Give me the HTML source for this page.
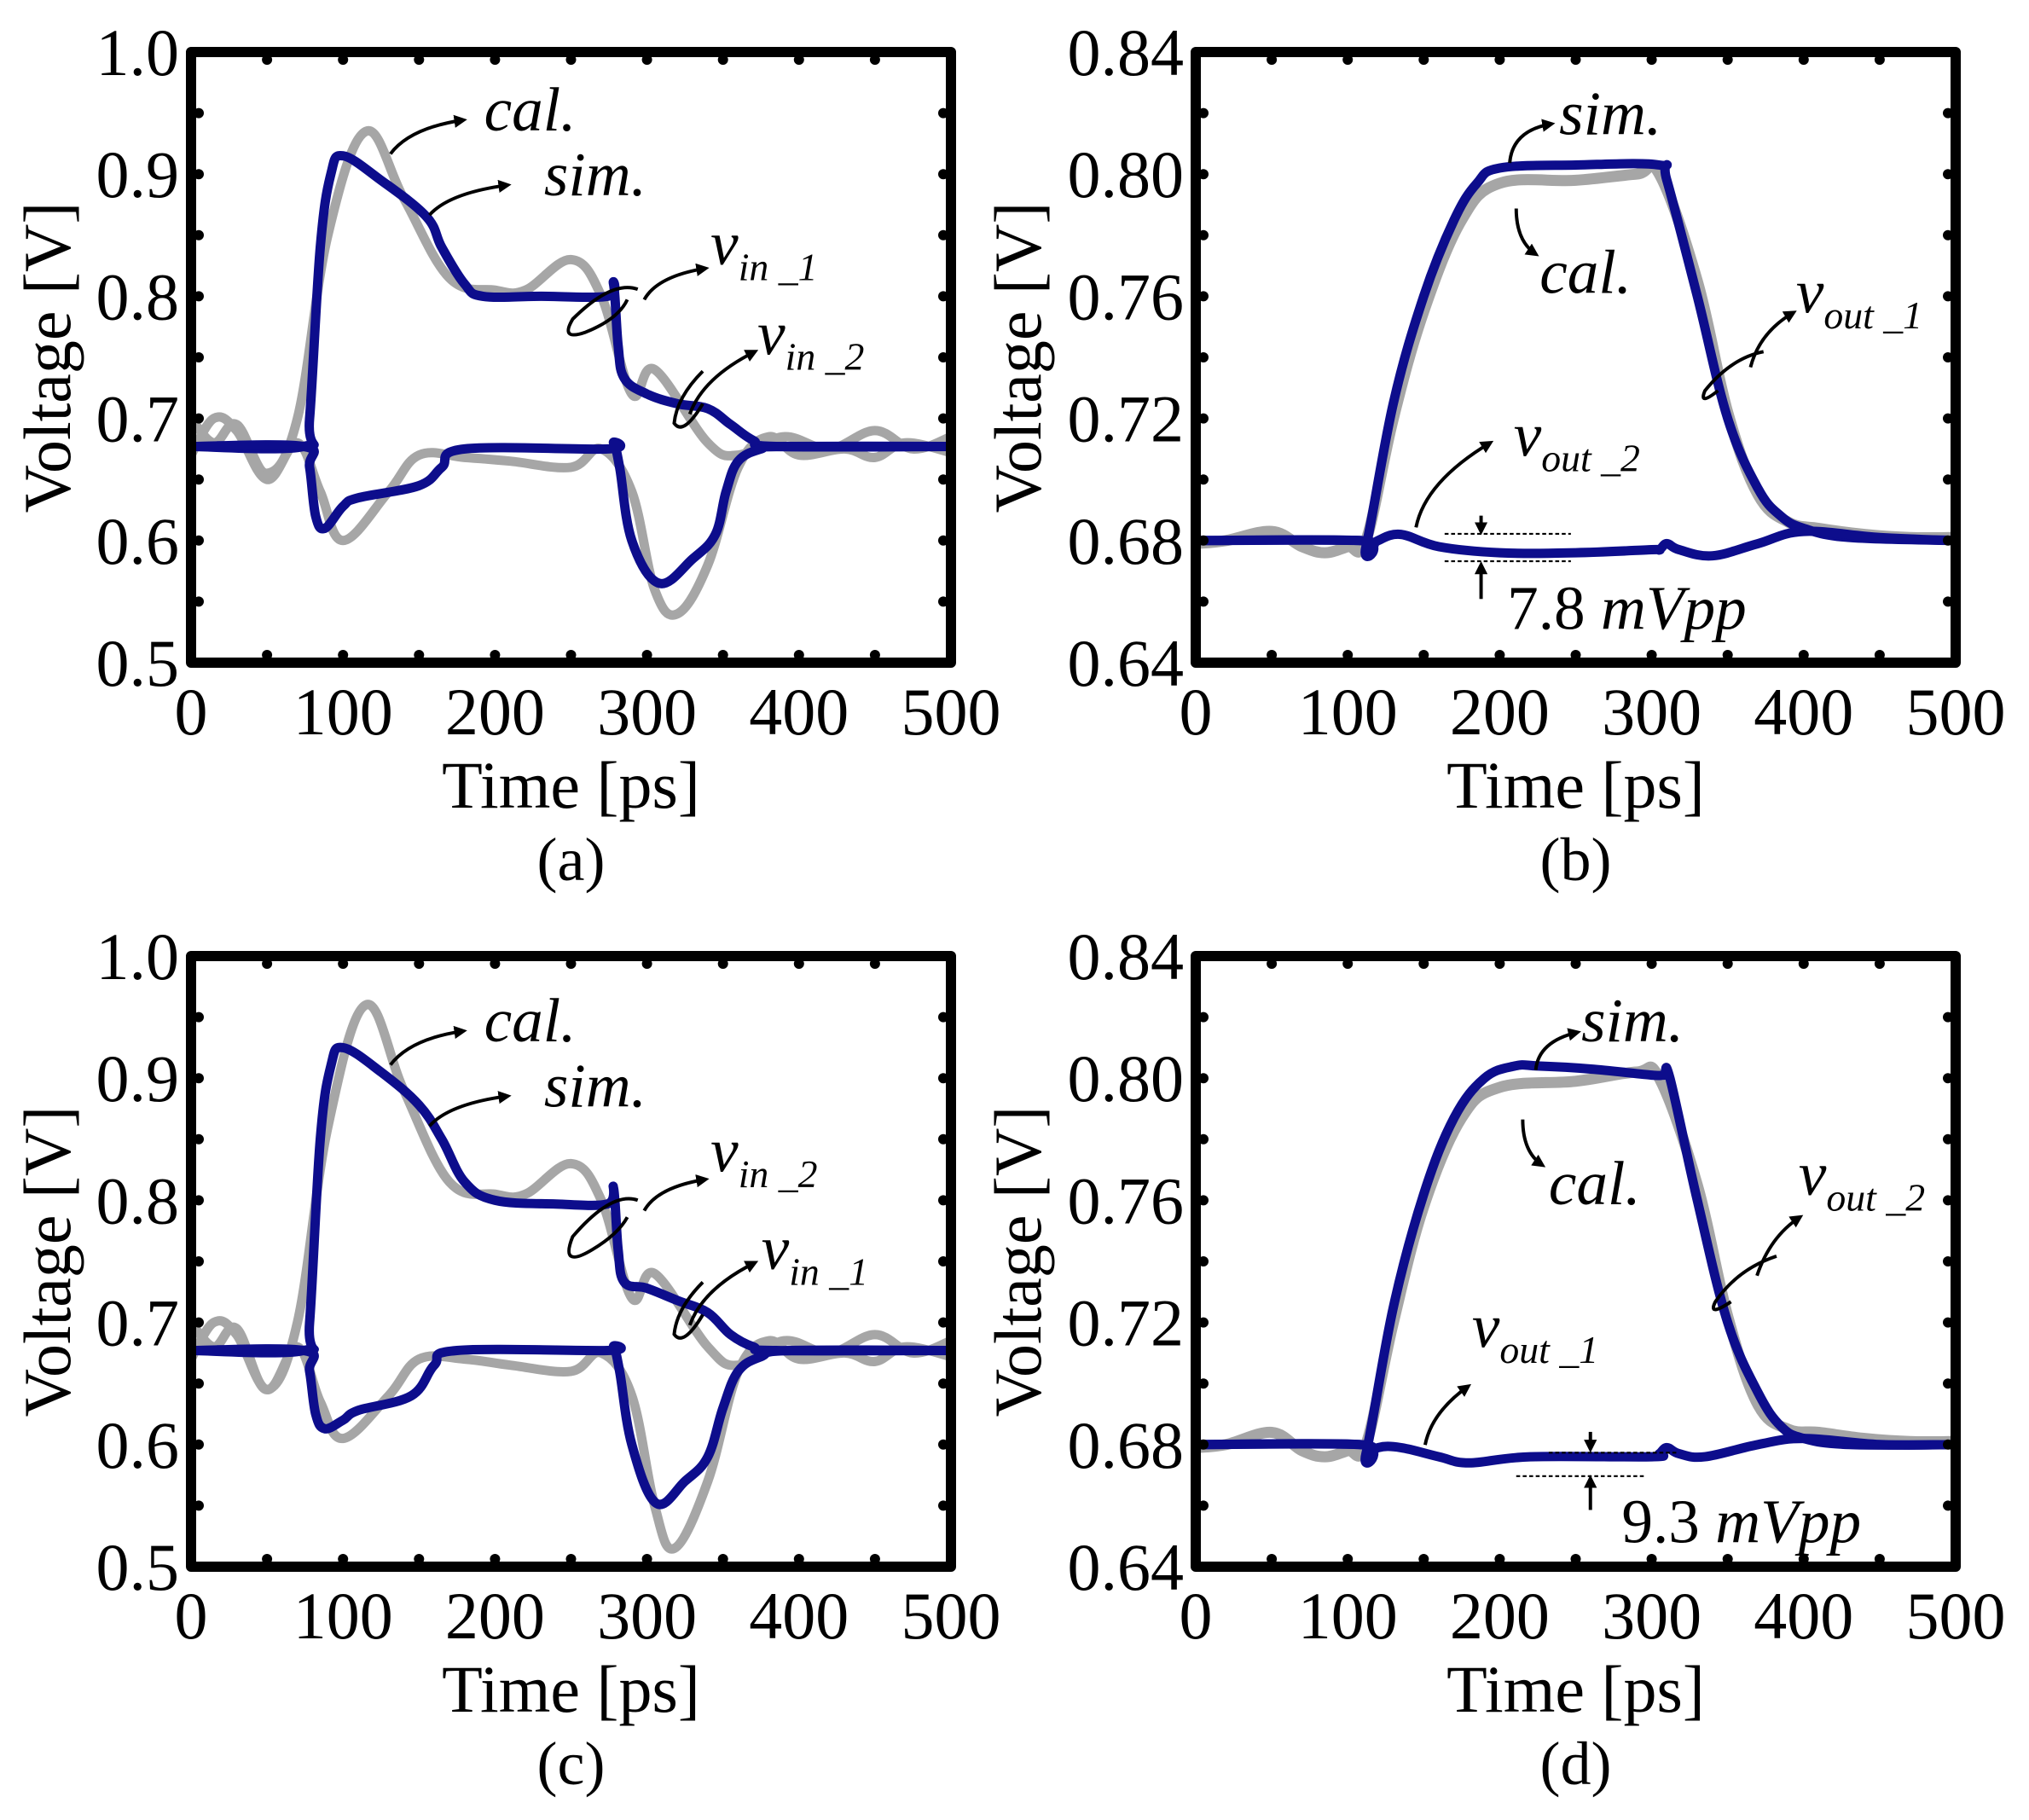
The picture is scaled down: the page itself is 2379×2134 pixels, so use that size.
<!DOCTYPE html>
<html><head><meta charset="utf-8"><style>
html,body{margin:0;padding:0;background:#fff}
svg{display:block}
text{font-family:"Liberation Serif",serif;fill:#000}
</style></head><body>
<svg id="fig" width="2379" height="2134" viewBox="0 0 2379 2134" xmlns="http://www.w3.org/2000/svg"></svg>
<script>
// ---- data (time in ps, voltage in V) ----
const aCalIn1T=[0,15,30,50,70,90,115,140,170,200,220,250,270,290,305,340,360,390,420,450,475,500];
const aCalIn1V=[0.70,0.68,0.695,0.655,0.70,0.85,0.935,0.88,0.815,0.805,0.805,0.83,0.80,0.72,0.74,0.68,0.67,0.685,0.675,0.69,0.675,0.685];
const aCalIn2T=[0,15,30,50,70,85,100,130,150,180,210,250,270,290,305,320,340,360,380,400,430,450,470,500];
const aCalIn2V=[0.67,0.70,0.69,0.65,0.68,0.64,0.60,0.64,0.67,0.668,0.665,0.66,0.675,0.64,0.56,0.54,0.58,0.66,0.685,0.67,0.675,0.668,0.68,0.672];
const aSimIn1T=[0,74,78,85,92,100,125,155,165,180,192,230,274,278,281,285,300,320,340,355,370,385,500];
const aSimIn1V=[0.677,0.677,0.70,0.84,0.90,0.915,0.895,0.865,0.84,0.81,0.80,0.80,0.80,0.81,0.76,0.733,0.72,0.712,0.708,0.695,0.682,0.677,0.677];
const aSimIn2T=[0,74,78,82,88,100,110,150,165,180,274,278,282,290,308,330,345,352,360,375,390,500];
const aSimIn2V=[0.677,0.677,0.66,0.62,0.61,0.628,0.635,0.645,0.66,0.675,0.675,0.68,0.66,0.60,0.565,0.585,0.605,0.64,0.665,0.675,0.677,0.677];

const cCalIn2T=[0,15,30,50,70,90,115,140,170,200,220,250,270,290,305,340,360,390,420,450,475,500];
const cCalIn2V=[0.70,0.68,0.695,0.645,0.70,0.86,0.96,0.89,0.815,0.805,0.805,0.83,0.80,0.72,0.74,0.68,0.665,0.685,0.675,0.69,0.675,0.685];
const cCalIn1T=[0,15,30,50,70,85,100,130,150,180,210,250,270,290,305,318,340,360,380,400,430,450,470,500];
const cCalIn1V=[0.67,0.70,0.69,0.645,0.68,0.635,0.605,0.64,0.67,0.67,0.665,0.66,0.675,0.64,0.55,0.515,0.57,0.66,0.685,0.67,0.675,0.668,0.68,0.672];
const cSimIn2T=[0,74,78,85,92,100,125,150,165,180,200,240,274,278,281,285,300,320,340,355,370,385,500];
const cSimIn2V=[0.677,0.677,0.70,0.85,0.91,0.925,0.905,0.878,0.85,0.815,0.80,0.797,0.797,0.81,0.76,0.733,0.728,0.718,0.708,0.69,0.68,0.677,0.677];
const cSimIn1T=[0,74,78,82,88,100,110,145,160,175,274,278,282,290,306,325,340,350,360,375,395,500];
const cSimIn1V=[0.677,0.677,0.66,0.625,0.613,0.62,0.628,0.64,0.665,0.677,0.677,0.68,0.66,0.60,0.552,0.57,0.59,0.63,0.66,0.672,0.677,0.677];

const bCalOut1T=[0,20,50,70,85,100,112,130,150,175,200,250,290,305,330,350,370,390,410,440,470,500];
const bCalOut1V=[0.679,0.68,0.683,0.678,0.676,0.678,0.68,0.72,0.755,0.785,0.797,0.798,0.80,0.80,0.765,0.722,0.695,0.686,0.684,0.682,0.681,0.681];
const bSimOut1T=[0,108,112,130,150,170,185,200,250,305,310,330,350,370,385,400,430,500];
const bSimOut1V=[0.68,0.68,0.678,0.725,0.76,0.785,0.797,0.802,0.803,0.803,0.798,0.76,0.72,0.697,0.688,0.684,0.681,0.68];
const bSimOut2T=[0,108,112,120,135,160,200,250,300,305,310,318,340,370,400,450,500];
const bSimOut2V=[0.68,0.68,0.677,0.68,0.682,0.678,0.676,0.676,0.677,0.677,0.679,0.677,0.675,0.679,0.683,0.681,0.68];

const dCalOut2T=[0,20,50,70,85,100,112,130,150,175,200,250,290,305,330,350,370,390,410,440,470,500];
const dCalOut2V=[0.679,0.68,0.684,0.678,0.676,0.678,0.68,0.72,0.758,0.787,0.797,0.799,0.802,0.80,0.765,0.722,0.693,0.685,0.684,0.682,0.681,0.681];
const dSimOut2T=[0,108,112,130,150,170,190,210,225,260,300,308,312,330,350,370,385,400,430,500];
const dSimOut2V=[0.68,0.68,0.677,0.725,0.762,0.787,0.800,0.804,0.804,0.803,0.801,0.801,0.80,0.76,0.72,0.697,0.686,0.682,0.68,0.68];
const dSimOut1T=[0,108,112,120,135,160,180,220,300,305,310,318,335,370,400,450,500];
const dSimOut1V=[0.68,0.68,0.676,0.679,0.679,0.676,0.674,0.676,0.676,0.677,0.679,0.677,0.676,0.68,0.682,0.68,0.68];

const xTicks=[0,100,200,300,400,500];
const yTicksA=[0.5,0.6,0.7,0.8,0.9,1.0];
const yTickLabelsA=["0.5","0.6","0.7","0.8","0.9","1.0"];
const yTicksB=[0.64,0.68,0.72,0.76,0.80,0.84];
const yTickLabelsB=["0.64","0.68","0.72","0.76","0.80","0.84"];

const NS="http://www.w3.org/2000/svg";
const svg=document.getElementById('fig');
function mk(tag,attrs,parent){const e=document.createElementNS(NS,tag);for(const k in attrs)e.setAttribute(k,attrs[k]);(parent||svg).appendChild(e);return e;}

function smoothPath(pts){
  let d="M"+pts[0][0].toFixed(1)+","+pts[0][1].toFixed(1);
  for(let i=0;i<pts.length-1;i++){
    const p0=pts[Math.max(0,i-1)],p1=pts[i],p2=pts[i+1],p3=pts[Math.min(pts.length-1,i+2)];
    const t=0.18;
    const c1=[p1[0]+(p2[0]-p0[0])*t,p1[1]+(p2[1]-p0[1])*t];
    const c2=[p2[0]-(p3[0]-p1[0])*t,p2[1]-(p3[1]-p1[1])*t];
    d+=" C"+c1[0].toFixed(1)+","+c1[1].toFixed(1)+" "+c2[0].toFixed(1)+","+c2[1].toFixed(1)+" "+p2[0].toFixed(1)+","+p2[1].toFixed(1);
  }
  return d;
}

function panel(id,L,R,T,B,ymin,ymax,yTicks,yLabels,series,caption,titleOff){
  const g=mk('g',{});
  
  
  const sx=v=>L+(v-0)/(500-0)*(R-L);
  const sy=v=>B-(v-ymin)/(ymax-ymin)*(B-T);
  const clipId='clip'+id;
  const cp=mk('clipPath',{id:clipId},g);
  mk('rect',{x:L,y:T,width:R-L,height:B-T},cp);
  const sg=mk('g',{'clip-path':'url(#'+clipId+')'},g);
  series.forEach(s=>{
    const pts=s.t.map((t,i)=>[sx(t),sy(s.v[i])]);
    const p=mk('path',{d:smoothPath(pts),fill:'none',stroke:s.c,'stroke-width':s.w,'stroke-linejoin':'round','stroke-linecap':'round'},sg);
    
    
  });
  for(let k=1;k<10;k++){
    const x=L+k*(R-L)/10;
    mk('circle',{cx:x,cy:T+9,r:6,fill:'#000'},g);
    mk('circle',{cx:x,cy:B-9,r:6,fill:'#000'},g);
    const y=T+k*(B-T)/10;
    mk('circle',{cx:L+9,cy:y,r:6,fill:'#000'},g);
    mk('circle',{cx:R-9,cy:y,r:6,fill:'#000'},g);
  }
  const box=mk('rect',{x:L,y:T,width:R-L,height:B-T,fill:'none',stroke:'#000','stroke-width':12,'stroke-linejoin':'round'},g);
  
  
  xTicks.forEach(v=>{
    const t=mk('text',{x:sx(v),y:B+84,'font-size':78,'text-anchor':'middle'},g);
    t.textContent=String(v);
    
    
  });
  yTicks.forEach((v,i)=>{
    const t=mk('text',{x:L-14,y:sy(v)+27,'font-size':78,'text-anchor':'end'},g);
    t.textContent=yLabels[i];
    
    
  });
  const xt=mk('text',{x:(L+R)/2,y:B+170,'font-size':78,'text-anchor':'middle'},g);
  xt.textContent='Time [ps]';
  
  
  const yc=(T+B)/2, yx=L-titleOff;
  const yt=mk('text',{x:yx,y:yc,'font-size':78,'text-anchor':'middle',transform:'rotate(-90 '+yx+' '+yc+')'},g);
  yt.textContent='Voltage [V]';
  
  
  const cap=mk('text',{x:(L+R)/2,y:B+255,'font-size':72,'text-anchor':'middle'},g);
  cap.textContent=caption;
  
  
}
const GR='#a6a6a6',BL='#0d0d8c';
panel('a',224,1115,61,777,0.5,1.0,yTicksA,yTickLabelsA,[
 {t:aCalIn1T,v:aCalIn1V,c:GR,w:11,name:'cal-vin1-line'},
 {t:aCalIn2T,v:aCalIn2V,c:GR,w:11,name:'cal-vin2-line'},
 {t:aSimIn1T,v:aSimIn1V,c:BL,w:11,name:'sim-vin1-line'},
 {t:aSimIn2T,v:aSimIn2V,c:BL,w:11,name:'sim-vin2-line'}],'(a)',142);
panel('b',1402,2293,61,777,0.64,0.84,yTicksB,yTickLabelsB,[
 {t:bCalOut1T,v:bCalOut1V,c:GR,w:13,name:'cal-vout1-line'},
 {t:bSimOut1T,v:bSimOut1V,c:BL,w:11,name:'sim-vout1-line'},
 {t:bSimOut2T,v:bSimOut2V,c:BL,w:11,name:'sim-vout2-line'}],'(b)',182);
panel('c',224,1115,1121,1837,0.5,1.0,yTicksA,yTickLabelsA,[
 {t:cCalIn2T,v:cCalIn2V,c:GR,w:11,name:'cal-vin2-line'},
 {t:cCalIn1T,v:cCalIn1V,c:GR,w:11,name:'cal-vin1-line'},
 {t:cSimIn2T,v:cSimIn2V,c:BL,w:11,name:'sim-vin2-line'},
 {t:cSimIn1T,v:cSimIn1V,c:BL,w:11,name:'sim-vin1-line'}],'(c)',142);
panel('d',1402,2293,1121,1837,0.64,0.84,yTicksB,yTickLabelsB,[
 {t:dCalOut2T,v:dCalOut2V,c:GR,w:13,name:'cal-vout2-line'},
 {t:dSimOut2T,v:dSimOut2V,c:BL,w:11,name:'sim-vout2-line'},
 {t:dSimOut1T,v:dSimOut1V,c:BL,w:11,name:'sim-vout1-line'}],'(d)',182);
</script>
<svg width="2379" height="2134" viewBox="0 0 1559 1398" style="position:absolute;left:0;top:0">
<defs><marker id="ah" markerWidth="10" markerHeight="10" refX="7" refY="5" orient="auto" markerUnits="userSpaceOnUse"><path d="M0,0 L10,5 L0,10 z" fill="#000"/></marker></defs>
<g fill="none" stroke="#000" stroke-width="2.6">
<path d="M300,118 Q315,98 356,92" marker-end="url(#ah)"/>
<path d="M330,165 Q345,148 390,142" marker-end="url(#ah)"/>
<path d="M495,230 Q505,212 542,206" marker-end="url(#ah)"/>
<path d="M490,222 Q470,215 440,245 Q430,262 450,255 Q475,245 482,230"/>
<path d="M530,318 Q540,290 580,270" marker-end="url(#ah)"/>
<path d="M540,285 Q520,305 518,325 Q525,335 540,310"/>
<path d="M1160,125 Q1162,100 1192,95" marker-end="url(#ah)"/>
<path d="M1165,160 Q1165,185 1180,195" marker-end="url(#ah)"/>
<path d="M1345,282 Q1352,255 1378,240" marker-end="url(#ah)"/>
<path d="M1355,270 Q1330,275 1310,300 Q1305,312 1320,300"/>
<path d="M1088,405 Q1095,370 1145,340" marker-end="url(#ah)"/>
<path d="M1138,396 L1138,408" marker-end="url(#ah)"/>
<path d="M1138,460 L1138,434" marker-end="url(#ah)"/>
<path d="M300,818 Q315,798 356,792" marker-end="url(#ah)"/>
<path d="M330,865 Q345,848 390,842" marker-end="url(#ah)"/>
<path d="M495,930 Q505,912 542,906" marker-end="url(#ah)"/>
<path d="M490,922 Q470,915 440,950 Q430,975 455,960 Q475,948 482,935"/>
<path d="M530,1018 Q540,990 580,970" marker-end="url(#ah)"/>
<path d="M540,985 Q520,1005 518,1025 Q525,1035 540,1010"/>
<path d="M1180,822 Q1182,800 1212,793" marker-end="url(#ah)"/>
<path d="M1170,860 Q1170,885 1185,895" marker-end="url(#ah)"/>
<path d="M1350,980 Q1360,950 1383,935" marker-end="url(#ah)"/>
<path d="M1365,965 Q1335,975 1318,1000 Q1312,1012 1330,1000"/>
<path d="M1095,1110 Q1100,1085 1128,1065" marker-end="url(#ah)"/>
<path d="M1222,1100 L1222,1113" marker-end="url(#ah)"/>
<path d="M1222,1160 L1222,1136" marker-end="url(#ah)"/>
</g>
<g stroke="#000" stroke-width="1.4" stroke-dasharray="3,2">
<line x1="1110" y1="410" x2="1207" y2="410"/>
<line x1="1110" y1="431" x2="1207" y2="431"/>
<line x1="1190" y1="1116" x2="1290" y2="1116"/>
<line x1="1165" y1="1134" x2="1265" y2="1134"/>
</g>
<g font-family="Liberation Serif, serif" font-style="italic" font-size="48">
<text x="372" y="100">cal.</text>
<text x="418" y="150">sim.</text>
<text x="546" y="203">v<tspan font-size="30" dy="12">in _1</tspan></text>
<text x="582" y="272">v<tspan font-size="30" dy="12">in _2</tspan></text>
<text x="1198" y="103">sim.</text>
<text x="1183" y="225">cal.</text>
<text x="1380" y="240">v<tspan font-size="30" dy="12">out _1</tspan></text>
<text x="1163" y="350">v<tspan font-size="30" dy="12">out _2</tspan></text>
<text x="1158" y="483"><tspan font-style="normal">7.8 </tspan>mVpp</text>
<text x="372" y="800">cal.</text>
<text x="418" y="850">sim.</text>
<text x="546" y="900">v<tspan font-size="30" dy="12">in _2</tspan></text>
<text x="585" y="975">v<tspan font-size="30" dy="12">in _1</tspan></text>
<text x="1215" y="800">sim.</text>
<text x="1190" y="925">cal.</text>
<text x="1382" y="918">v<tspan font-size="30" dy="12">out _2</tspan></text>
<text x="1131" y="1035">v<tspan font-size="30" dy="12">out _1</tspan></text>
<text x="1246" y="1185"><tspan font-style="normal">9.3 </tspan>mVpp</text>
</g>
</svg>
</body></html>
